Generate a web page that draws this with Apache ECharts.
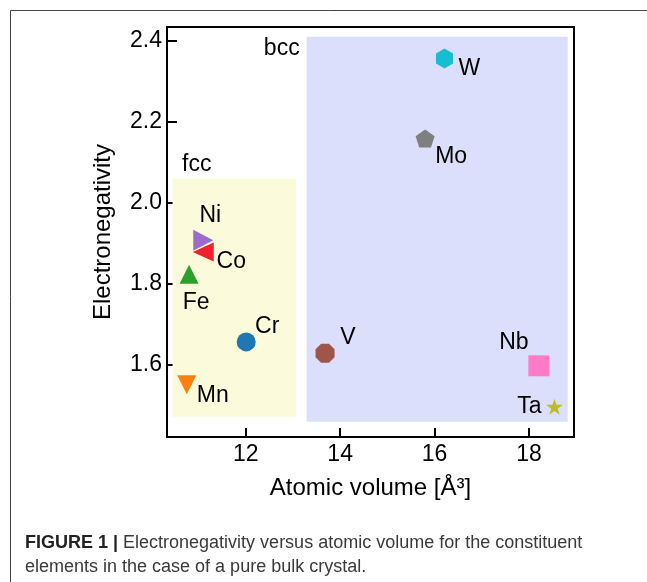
<!DOCTYPE html>
<html>
<head>
<meta charset="utf-8">
<script src="https://cdn.jsdelivr.net/npm/echarts@6/dist/echarts.min.js"></script>
<style>
html,body{margin:0;padding:0;background:#fff;}
#chart{width:647px;height:582px;}
</style>
</head>
<body>
<div id="chart"></div>
<script>
// ---- data ----
var elements = ['Mn', 'Fe', 'Co', 'Ni', 'Cr', 'V', 'Nb', 'Ta', 'Mo', 'W'];
var atomicVolume = [10.75, 10.80, 11.10, 11.10, 12.01, 13.68, 18.21, 18.54, 15.80, 16.21];
var electronegativity = [1.551, 1.824, 1.879, 1.908, 1.657, 1.629, 1.598, 1.497, 2.159, 2.356];
var xTicks = [12, 14, 16, 18];
var yTicks = [1.6, 1.8, 2.0, 2.2, 2.4];
var regionNames = ['fcc', 'bcc'];
var regionX = [[10.45, 13.07], [13.29, 18.82]];
var regionY = [[1.4725, 2.06], [1.46, 2.41]];

// ---- styles ----
var P = {
  star: 'path://M0,-1L0.2245,-0.309L0.9511,-0.309L0.3633,0.118L0.5878,0.809L0,0.382L-0.5878,0.809L-0.3633,0.118L-0.9511,-0.309L-0.2245,-0.309Z',
  pentagon: 'path://M0,-1L0.9511,-0.309L0.5878,0.809L-0.5878,0.809L-0.9511,-0.309Z',
  octagon: 'path://M0.3827,-0.9239L0.9239,-0.3827L0.9239,0.3827L0.3827,0.9239L-0.3827,0.9239L-0.9239,0.3827L-0.9239,-0.3827L-0.3827,-0.9239Z',
  hexagon: 'path://M0,-1L0.866,-0.5L0.866,0.5L0,1L-0.866,0.5L-0.866,-0.5Z'
};
var markerStyle = {
  Mn: {symbol: 'triangle', size: [19, 19], rotate: 180, color: '#ff7f0e', off: [26, 11]},
  Fe: {symbol: 'triangle', size: [19, 19], rotate: 0, color: '#2ca02c', off: [7, 28]},
  Co: {symbol: 'triangle', size: [19, 21], rotate: 90, color: '#f0202c', off: [28, 10]},
  Ni: {symbol: 'triangle', size: [21, 20], rotate: -90, color: '#9d6bc9', off: [7, -24]},
  Cr: {symbol: 'circle', size: 19, rotate: 0, color: '#1f77b4', off: [21, -15]},
  V:  {symbol: P.octagon, size: [19, 19], rotate: 0, color: '#a0554b', off: [23, -16]},
  Nb: {symbol: 'rect', size: [21, 21], rotate: 0, color: '#ff7ac8', off: [-25, -23]},
  Ta: {symbol: P.star, size: [17, 16], rotate: 0, color: '#bcbd22', off: [-25, 0]},
  Mo: {symbol: P.pentagon, size: [19, 18], rotate: 0, color: '#7f7f7f', off: [26, 18]},
  W:  {symbol: P.hexagon, size: [17, 20], rotate: 0, color: '#17bed0', off: [25, 10]}
};
var regionStyle = {
  fcc: {color: '#fbfbdc', labelPos: [9.5, -13.5], align: 'left'},
  bcc: {color: '#dcdffc', labelPos: [-7, 12.5], align: 'right'}
};
var FONT = 'Liberation Sans, Arial, Helvetica, sans-serif';

var points = elements.map(function (el, i) {
  var s = markerStyle[el];
  return {
    name: el,
    value: [atomicVolume[i], electronegativity[i]],
    symbol: s.symbol,
    symbolSize: s.size,
    symbolRotate: s.rotate,
    itemStyle: {color: s.color, opacity: 1},
    label: {
      show: true, formatter: el, position: 'inside', offset: s.off,
      color: '#000', fontSize: 23, fontFamily: FONT, opacity: 1
    }
  };
});

var areas = regionNames.map(function (n, i) {
  var s = regionStyle[n];
  return [
    {
      name: n,
      xAxis: regionX[i][0], yAxis: regionY[i][1],
      itemStyle: {color: s.color, opacity: 1},
      label: {show: true, position: s.labelPos, align: s.align, verticalAlign: 'middle',
        color: '#000', fontSize: 23, fontFamily: FONT}
    },
    {xAxis: regionX[i][1], yAxis: regionY[i][0]}
  ];
});

var chart = echarts.init(document.getElementById('chart'), null, {renderer: 'canvas'});
chart.setOption({
  animation: false,
  backgroundColor: '#fff',
  grid: {left: 167, top: 27, width: 407, height: 410, show: true,
    borderColor: '#000', borderWidth: 2, backgroundColor: 'transparent'},
  xAxis: {
    type: 'value', min: 10.332, max: 18.954,
    name: 'Atomic volume [Å³]', nameLocation: 'middle', nameGap: 39,
    nameTextStyle: {color: '#000', fontSize: 24, fontFamily: FONT},
    splitLine: {show: false},
    axisLine: {show: true, onZero: false, lineStyle: {color: '#000', width: 2}},
    axisTick: {show: true, inside: true, length: 9, customValues: xTicks, lineStyle: {color: '#000', width: 2}},
    axisLabel: {show: true, customValues: xTicks, margin: 6, color: '#000', fontSize: 23, fontFamily: FONT,
      formatter: function (v) { return String(Math.round(v)); }}
  },
  yAxis: {
    type: 'value', min: 1.4224, max: 2.4338,
    name: 'Electronegativity', nameLocation: 'middle', nameGap: 52,
    nameTextStyle: {color: '#000', fontSize: 24, fontFamily: FONT},
    splitLine: {show: false},
    axisLine: {show: true, onZero: false, lineStyle: {color: '#000', width: 2}},
    axisTick: {show: true, inside: true, length: 10, customValues: yTicks, lineStyle: {color: '#000', width: 2}},
    axisLabel: {show: true, customValues: yTicks, margin: 5, color: '#000', fontSize: 23, fontFamily: FONT,
      formatter: function (v) { return v.toFixed(1); }}
  },
  series: [
    {
      type: 'scatter', z: 1, data: [], silent: true,
      markArea: {silent: true, data: areas}
    },
    {
      type: 'scatter', z: 3, data: points, silent: true
    }
  ],
  graphic: [
    {type: 'rect', silent: true, shape: {x: 10.5, y: 10.5, width: 700, height: 700},
      style: {fill: 'none', stroke: '#444', lineWidth: 1}, z: 100},
    {type: 'text', left: 25, top: 531, silent: true, z: 100,
      style: {
        text: '{b|FIGURE 1 |} Electronegativity versus atomic volume for the constituent\nelements in the case of a pure bulk crystal.',
        fontFamily: FONT, fontSize: 18, fill: '#3a3a3a', lineHeight: 24,
        rich: {b: {fontWeight: 'bold', fontFamily: FONT, fontSize: 18, fill: '#222', lineHeight: 24}}
      }}
  ]
});
</script>
</body>
</html>
